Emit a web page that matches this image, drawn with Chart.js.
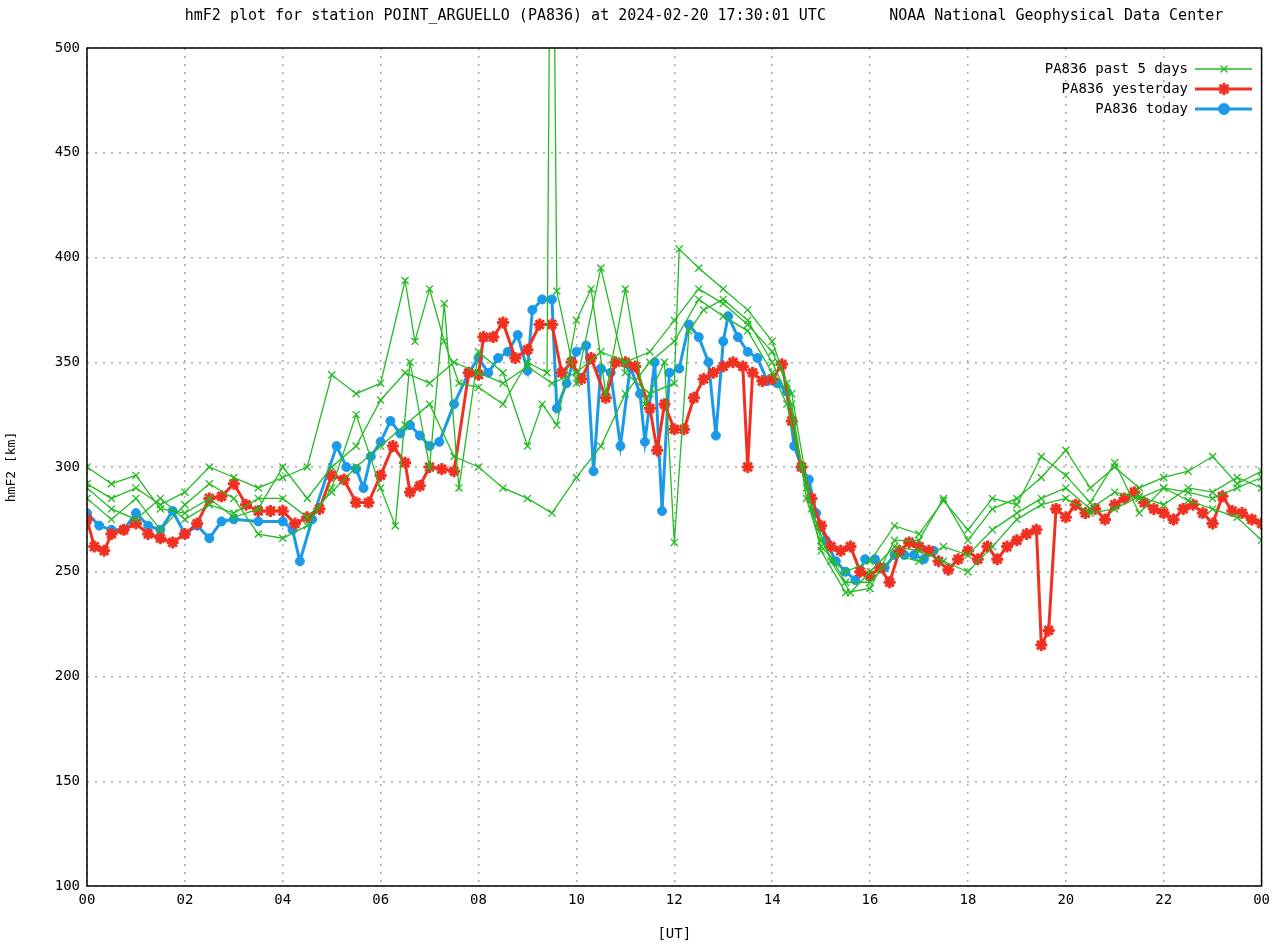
<!DOCTYPE html>
<html><head><meta charset="utf-8">
<script src="https://cdn.jsdelivr.net/npm/chart.js@4"></script>
<style>body{margin:0;background:#fff}canvas{display:block}</style>
</head><body>
<canvas id="c" width="1276" height="947"></canvas>
<script>
// [hour UT, hmF2 km]
var today = [[0,278],[0.25,272],[0.5,270],[0.75,270],[1,278],[1.25,272],[1.5,270],[1.75,279],[2,268],[2.25,272],[2.5,266],[2.75,274],[3,275],[3.5,274],[4,274],[4.2,270],[4.35,255],[4.6,275],[5.1,310],[5.3,300],[5.5,299],[5.65,290],[5.8,305],[6,312],[6.2,322],[6.4,316],[6.6,320],[6.8,315],[7,310],[7.2,312],[7.5,330],[7.8,345],[8,352],[8.2,345],[8.4,352],[8.6,355],[8.8,363],[9,346],[9.1,375],[9.3,380],[9.5,380],[9.6,328],[9.8,340],[10,355],[10.2,358],[10.35,298],[10.5,347],[10.7,345],[10.9,310],[11.1,348],[11.3,335],[11.4,312],[11.6,350],[11.75,279],[11.9,345],[12.1,347],[12.3,368],[12.5,362],[12.7,350],[12.85,315],[13,360],[13.1,372],[13.3,362],[13.5,355],[13.7,352],[13.9,341],[14.1,340],[14.3,336],[14.45,310],[14.6,300],[14.75,294],[14.9,278],[15.1,265],[15.3,255],[15.5,250],[15.7,246],[15.9,256],[16.1,256],[16.3,252],[16.5,258],[16.7,258],[16.9,258],[17.1,256],[17.3,260]];
var yesterday = [[0,275],[0.15,262],[0.35,260],[0.5,268],[0.75,270],[1,273],[1.25,268],[1.5,266],[1.75,264],[2,268],[2.25,273],[2.5,285],[2.75,286],[3,292],[3.25,282],[3.5,279],[3.75,279],[4,279],[4.25,273],[4.5,276],[4.75,280],[5,296],[5.25,294],[5.5,283],[5.75,283],[6,296],[6.25,310],[6.5,302],[6.6,288],[6.8,291],[7,300],[7.25,299],[7.5,298],[7.8,345],[8,344],[8.1,362],[8.3,362],[8.5,369],[8.75,352],[9,356],[9.25,368],[9.5,368],[9.7,345],[9.9,350],[10.1,342],[10.3,352],[10.6,333],[10.8,350],[11,350],[11.2,348],[11.5,328],[11.65,308],[11.8,330],[12,318],[12.2,318],[12.4,333],[12.6,342],[12.8,345],[13,348],[13.2,350],[13.4,348],[13.5,300],[13.6,345],[13.8,341],[14,342],[14.2,349],[14.4,322],[14.6,300],[14.8,285],[15,272],[15.2,262],[15.4,260],[15.6,262],[15.8,250],[16,248],[16.2,252],[16.4,245],[16.6,260],[16.8,264],[17,262],[17.2,260],[17.4,255],[17.6,251],[17.8,256],[18,260],[18.2,256],[18.4,262],[18.6,256],[18.8,262],[19,265],[19.2,268],[19.4,270],[19.5,215],[19.65,222],[19.8,280],[20,276],[20.2,282],[20.4,278],[20.6,280],[20.8,275],[21,282],[21.2,285],[21.4,288],[21.6,283],[21.8,280],[22,278],[22.2,275],[22.4,280],[22.6,282],[22.8,278],[23,273],[23.2,286],[23.4,279],[23.6,278],[23.8,275],[24,273]];
var past1 = [[0,292],[0.5,285],[1,290],[1.5,282],[2,288],[2.5,300],[3,295],[3.5,290],[4,295],[4.5,300],[5,344],[5.5,335],[6,340],[6.5,389],[6.7,360],[7,385],[7.3,360],[7.6,340],[8,338],[8.5,330],[9,350],[9.4,345],[9.45,520],[9.55,520],[9.6,384],[10,340],[10.5,395],[11,345],[11.5,335],[12,340],[12.1,404],[12.5,395],[13,385],[13.5,375],[14,360],[14.3,340],[14.6,300],[15,260],[15.5,240],[16,242],[16.5,265],[17,265],[17.5,285],[18,265],[18.5,280],[19,285],[19.5,295],[20,308],[20.5,290],[21,300],[21.5,290],[22,295],[22.5,298],[23,305],[23.5,292],[24,298]];
var past2 = [[0,290],[0.5,280],[1,275],[1.5,285],[2,275],[2.5,282],[3,278],[3.5,285],[4,285],[4.5,276],[5,288],[5.5,300],[6,310],[6.5,320],[7,330],[7.5,305],[8,300],[8.5,290],[9,285],[9.5,278],[10,295],[10.5,310],[11,335],[11.5,350],[12,360],[12.5,380],[13,372],[13.5,365],[14,345],[14.3,330],[14.7,290],[15,265],[15.5,245],[16,245],[16.5,258],[17,255],[17.5,262],[18,258],[18.5,270],[19,278],[19.5,285],[20,290],[20.5,280],[21,288],[21.5,285],[22,290],[22.5,288],[23,285],[23.5,290],[24,295]];
var past3 = [[0,285],[0.5,275],[1,285],[1.5,270],[2,282],[2.5,292],[3,285],[3.5,268],[4,266],[4.5,272],[5,290],[5.5,325],[6,290],[6.3,272],[6.6,350],[7,300],[7.3,378],[7.6,290],[8,355],[8.5,345],[9,310],[9.3,330],[9.6,320],[10,370],[10.3,385],[10.6,335],[11,385],[11.4,330],[11.8,350],[12,264],[12.3,365],[12.6,375],[13,380],[13.5,370],[14,350],[14.4,330],[14.7,285],[15,262],[15.5,250],[16,255],[16.5,272],[17,268],[17.5,284],[18,270],[18.5,285],[19,282],[19.5,305],[20,296],[20.5,283],[21,302],[21.5,278],[22,290],[22.5,284],[23,280],[23.5,276],[24,265]];
var past4 = [[0,300],[0.5,292],[1,296],[1.5,280],[2,278],[2.5,285],[3,276],[3.5,280],[4,300],[4.5,285],[5,300],[5.5,310],[6,332],[6.5,345],[7,340],[7.5,350],[8,345],[8.5,340],[9,348],[9.5,340],[10,345],[10.5,355],[11,350],[11.5,355],[12,370],[12.5,385],[13,378],[13.5,368],[14,355],[14.4,335],[14.8,280],[15.2,255],[15.6,240],[16,250],[16.5,262],[17,260],[17.5,255],[18,250],[18.5,262],[19,275],[19.5,282],[20,285],[20.5,278],[21,280],[21.5,286],[22,282],[22.5,290],[23,288],[23.5,295],[24,290]];
var xTicks = ['00','02','04','06','08','10','12','14','16','18','20','22','00'];

var F = '"DejaVu Sans Mono", monospace';
function pts(a){ return a.map(function(p){ return {x:p[0], y:p[1]}; }); }
function green(a, label){
  return {label: label, data: pts(a), borderColor:'#22bb22', backgroundColor:'#22bb22', borderWidth:1.3,
    pointStyle:'crossRot', pointRadius:5, pointBorderWidth:1.3, pointBorderColor:'#22bb22'};
}
var datasets = [
  green(past1,'PA836 past 5 days'), green(past2,''), green(past3,''), green(past4,''),
  {label:'PA836 yesterday', data: pts(yesterday), borderColor:'#f03020', backgroundColor:'#f03020', borderWidth:3,
    pointStyle:'star', pointRadius:6, pointBorderWidth:3, pointBorderColor:'#f03020'},
  {label:'PA836 today', data: pts(today), borderColor:'#1a9ae8', backgroundColor:'#1a9ae8', borderWidth:3,
    pointStyle:'circle', pointRadius:4.5, pointBorderWidth:1, pointBorderColor:'#1a9ae8'}
];

var deco = {
  id:'deco',
  afterDraw: function(ch){
    var c = ch.ctx, a = ch.chartArea;
    c.save();
    c.strokeStyle = '#000'; c.lineWidth = 1.5;
    c.strokeRect(a.left, a.top, a.right - a.left, a.bottom - a.top);
    c.fillStyle = '#000'; c.font = '15px ' + F; c.textBaseline = 'middle';
    c.textAlign = 'center';
    c.fillText('hmF2 plot for station POINT_ARGUELLO (PA836) at 2024-02-20 17:30:01 UTC       NOAA National Geophysical Data Center', 704, 16);
    // legend
    c.font = '14px ' + F;
    var items = [datasets[0], datasets[4], datasets[5]];
    items.forEach(function(d, i){
      var y = 69 + i * 20;
      c.textAlign = 'right'; c.fillStyle = '#000';
      c.fillText(d.label, 1188, y);
      c.strokeStyle = d.borderColor; c.lineWidth = d.borderWidth;
      c.beginPath(); c.moveTo(1195, y); c.lineTo(1252, y); c.stroke();
      Chart.helpers.drawPoint(c, {pointStyle: d.pointStyle, radius: d.pointRadius, borderWidth: d.pointBorderWidth}, 1224, y);
      c.fillStyle = d.borderColor;
      if (d.pointStyle === 'circle') { c.beginPath(); c.arc(1224, y, d.pointRadius, 0, 7); c.fill(); }
    });
    c.restore();
  }
};

new Chart(document.getElementById('c'), {
  type:'line',
  data:{datasets: datasets},
  plugins:[deco],
  options:{
    responsive:false, animation:false,
    layout:{padding:{left:0, top:48, right:6, bottom:0}},
    plugins:{legend:{display:false}, tooltip:{enabled:false}},
    scales:{
      x:{type:'linear', min:0, max:24,
        afterFit:function(s){ s.height = 61; },
        ticks:{stepSize:2, color:'#000', font:{family:F, size:14}, maxRotation:0, padding:6,
          callback:function(v){ return xTicks[v/2]; }},
        grid:{color:'#aaa', lineWidth:1.5, drawTicks:false},
        border:{display:false, dash:[2,6]},
        title:{display:true, text:'[UT]', color:'#000', font:{family:F, size:14}, padding:{top:10}}
      },
      y:{min:100, max:500,
        afterFit:function(s){ s.width = 87; },
        ticks:{stepSize:50, color:'#000', font:{family:F, size:14}, padding:7},
        grid:{color:'#aaa', lineWidth:1.5, drawTicks:false},
        border:{display:false, dash:[2,6]},
        title:{display:true, text:'hmF2 [km]', color:'#000', font:{family:F, size:13}}
      }
    }
  }
});
</script>
</body></html>
